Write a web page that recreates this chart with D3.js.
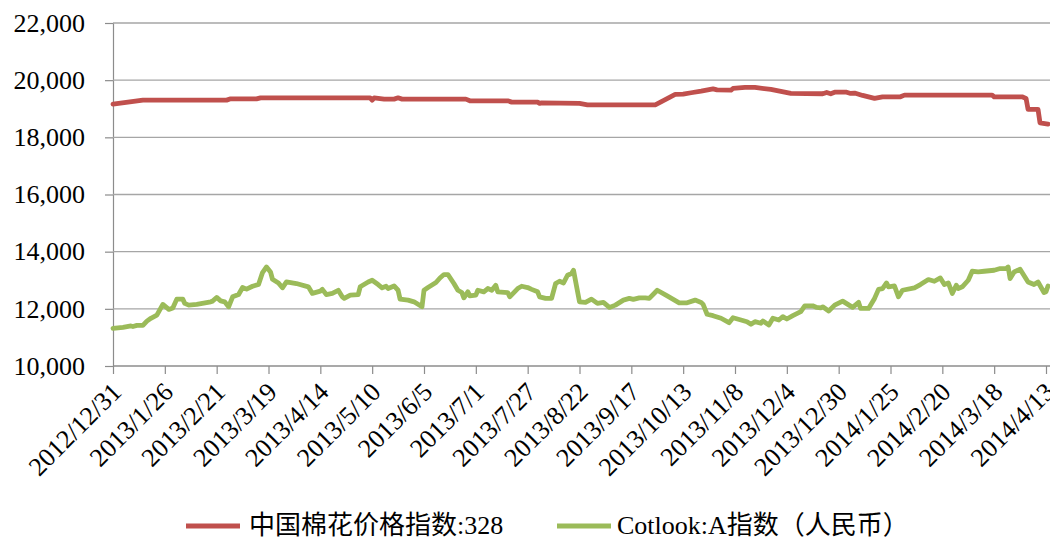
<!DOCTYPE html>
<html>
<head>
<meta charset="utf-8">
<script src="https://cdn.jsdelivr.net/npm/d3@7/dist/d3.min.js"></script>
<style>
  html, body { margin: 0; padding: 0; background: #fff; }
  svg { display: block; }
  text { font-family: "Liberation Serif", "Noto Sans CJK SC", serif; fill: #000; }
</style>
</head>
<body>
<svg id="chart" width="1050" height="540"></svg>
<script>
// ---------- DATA ----------
const seriesNames = ["中国棉花价格指数:328", "Cotlook:A指数（人民币）"];

const xTickLabels = ["2012/12/31","2013/1/26","2013/2/21","2013/3/19","2013/4/14","2013/5/10",
  "2013/6/5","2013/7/1","2013/7/27","2013/8/22","2013/9/17","2013/10/13","2013/11/8",
  "2013/12/4","2013/12/30","2014/1/25","2014/2/20","2014/3/18","2014/4/13"];

const yTickValues = [10000, 12000, 14000, 16000, 18000, 20000, 22000];

const chinaDates = ["2012/12/31","2013/1/15","2013/2/26","2013/2/28","2013/3/13","2013/3/15",
  "2013/5/9","2013/5/10","2013/5/11","2013/5/16","2013/5/21","2013/5/23","2013/5/25",
  "2013/6/26","2013/6/28","2013/7/17","2013/7/19","2013/8/1","2013/8/2","2013/8/3",
  "2013/8/22","2013/8/26","2013/9/29","2013/10/9","2013/10/13","2013/10/17","2013/10/22",
  "2013/10/28","2013/10/30","2013/11/6","2013/11/7","2013/11/13","2013/11/18","2013/11/26",
  "2013/12/6","2013/12/22","2013/12/24","2013/12/26","2013/12/28","2014/1/3","2014/1/5",
  "2014/1/7","2014/1/11","2014/1/17","2014/1/21","2014/1/30","2014/2/1","2014/3/17",
  "2014/3/18","2014/4/1","2014/4/3","2014/4/4","2014/4/9","2014/4/10","2014/4/14"];
const chinaValues = [19162,19302,19302,19347,19347,19382,
  19382,19302,19382,19337,19337,19382,19337,
  19337,19278,19278,19232,19232,19190,19208,
  19185,19138,19138,19500,19510,19560,19617,
  19697,19662,19650,19710,19745,19745,19675,
  19536,19525,19570,19525,19580,19580,19536,
  19550,19466,19362,19418,19418,19477,19477,
  19418,19418,19362,18977,18977,18508,18463];

const cotlookDates = ["2012/12/31","2013/1/5","2013/1/9","2013/1/10","2013/1/12","2013/1/15",
  "2013/1/17","2013/1/19","2013/1/22","2013/1/25","2013/1/28","2013/1/30","2013/2/1","2013/2/4",
  "2013/2/5","2013/2/7","2013/2/11","2013/2/18","2013/2/19","2013/2/21","2013/2/23","2013/2/25",
  "2013/2/27","2013/3/1","2013/3/4","2013/3/6","2013/3/8","2013/3/11","2013/3/14","2013/3/16",
  "2013/3/18","2013/3/20","2013/3/21","2013/3/24","2013/3/26","2013/3/28","2013/4/2","2013/4/8",
  "2013/4/10","2013/4/14","2013/4/15","2013/4/17","2013/4/20","2013/4/23","2013/4/25","2013/4/26",
  "2013/4/29","2013/5/3","2013/5/4","2013/5/8","2013/5/10","2013/5/13","2013/5/15","2013/5/17",
  "2013/5/18","2013/5/21","2013/5/23","2013/5/24","2013/5/28","2013/5/31","2013/6/4","2013/6/5",
  "2013/6/7","2013/6/11","2013/6/13","2013/6/15","2013/6/17","2013/6/20","2013/6/22","2013/6/24",
  "2013/6/25","2013/6/27","2013/6/28","2013/7/1","2013/7/2","2013/7/5","2013/7/7","2013/7/9",
  "2013/7/11","2013/7/12","2013/7/17","2013/7/18","2013/7/22","2013/7/24","2013/7/27","2013/7/29",
  "2013/8/1","2013/8/2","2013/8/5","2013/8/8","2013/8/10","2013/8/12","2013/8/14","2013/8/16",
  "2013/8/18","2013/8/19","2013/8/22","2013/8/25","2013/8/28","2013/8/31","2013/9/3","2013/9/6",
  "2013/9/9","2013/9/13","2013/9/16","2013/9/18","2013/9/21","2013/9/24","2013/9/26","2013/9/30",
  "2013/10/5","2013/10/11","2013/10/15","2013/10/19","2013/10/22","2013/10/23","2013/10/25",
  "2013/10/28","2013/11/1","2013/11/5","2013/11/7","2013/11/11","2013/11/14","2013/11/16",
  "2013/11/18","2013/11/21","2013/11/22","2013/11/25","2013/11/27","2013/11/30","2013/12/2",
  "2013/12/4","2013/12/7","2013/12/11","2013/12/13","2013/12/17","2013/12/19","2013/12/21",
  "2013/12/22","2013/12/25","2013/12/28","2014/1/1","2014/1/6","2014/1/9","2014/1/10","2014/1/14",
  "2014/1/17","2014/1/19","2014/1/21","2014/1/23","2014/1/24","2014/1/27","2014/1/29","2014/1/31",
  "2014/2/6","2014/2/9","2014/2/13","2014/2/16","2014/2/19","2014/2/21","2014/2/23","2014/2/25",
  "2014/2/27","2014/2/28","2014/3/2","2014/3/5","2014/3/7","2014/3/10","2014/3/13","2014/3/18",
  "2014/3/21","2014/3/24","2014/3/25","2014/3/26","2014/3/28","2014/3/31","2014/4/4","2014/4/7",
  "2014/4/9","2014/4/12","2014/4/13","2014/4/14"];
const cotlookValues = [11320,11355,11400,11380,11420,11420,
  11570,11670,11780,12155,11980,12030,12340,12340,
  12190,12130,12155,12245,12270,12400,12280,12245,
  12070,12420,12500,12745,12690,12790,12850,13270,
  13465,13290,13035,12905,12735,12940,12885,12770,
  12540,12620,12680,12500,12540,12650,12420,12365,
  12480,12500,12770,12940,13000,12850,12735,12790,
  12710,12800,12650,12340,12305,12245,12070,12650,
  12745,12920,13080,13200,13200,12885,12650,12570,
  12385,12595,12455,12480,12650,12595,12710,12650,
  12825,12595,12570,12420,12710,12790,12745,12680,
  12595,12420,12365,12365,12885,12965,12905,13175,
  13235,13350,12245,12225,12340,12190,12225,12050,
  12130,12305,12365,12330,12385,12385,12365,12650,
  12455,12210,12210,12305,12225,12155,11810,
  11760,11670,11515,11690,11610,11550,11460,
  11550,11495,11575,11435,11670,11610,11725,
  11645,11760,11900,12105,12105,12050,12035,
  12070,11925,12130,12270,12050,12225,12015,12015,
  12365,12680,12710,12905,12770,12800,12420,12650,
  12735,12850,13025,12965,13080,12850,12905,12540,
  12825,12710,12770,13000,13315,13290,13315,13350,
  13410,13410,13465,13060,13290,13385,12940,12850,
  12940,12570,12600,12800];

const seriesColors = ["#C0504D", "#9BBB59"];

// ---------- CHART ----------
const parse = d3.utcParse("%Y/%-m/%-d");
const svg = d3.select("#chart");

const plot = { left: 113, right: 1046, top: 23, bottom: 366 };

const x = d3.scaleUtc()
  .domain([parse(xTickLabels[0]), parse(xTickLabels[xTickLabels.length - 1])])
  .range([plot.left, plot.right]);

const y = d3.scaleLinear()
  .domain([yTickValues[0], yTickValues[yTickValues.length - 1]])
  .range([plot.bottom, plot.top]);

// y-axis
const yAxis = d3.axisLeft(y)
  .tickValues(yTickValues)
  .tickSize(8)
  .tickPadding(20)
  .tickFormat(d3.format(","));

const yg = svg.append("g")
  .attr("transform", `translate(${plot.left},0)`)
  .call(yAxis);
yg.select(".domain").attr("stroke", "#8c8c8c").attr("stroke-width", 1.2);
yg.selectAll(".tick line").attr("stroke", "#8c8c8c").attr("stroke-width", 1.2);
yg.selectAll(".tick text")
  .attr("font-size", 26)
  .attr("font-family", "'Liberation Serif', serif")
  .attr("fill", "#000");

// gridlines
svg.append("g").selectAll("line.grid")
  .data(yTickValues.slice(1))
  .join("line")
  .attr("x1", plot.left).attr("x2", 1050)
  .attr("y1", d => y(d)).attr("y2", d => y(d))
  .attr("stroke", "#a6a6a6").attr("stroke-width", 1.3);

// x-axis
const tickDates = xTickLabels.map(parse);
const xAxis = d3.axisBottom(x)
  .tickValues(tickDates)
  .tickSize(8)
  .tickFormat((d, i) => xTickLabels[i]);

const xg = svg.append("g")
  .attr("transform", `translate(0,${plot.bottom})`)
  .call(xAxis);
xg.select(".domain").remove();
xg.append("line")
  .attr("x1", plot.left).attr("x2", 1050)
  .attr("y1", 0).attr("y2", 0)
  .attr("stroke", "#8c8c8c").attr("stroke-width", 1.3);
xg.selectAll(".tick line").attr("stroke", "#8c8c8c").attr("stroke-width", 1.2);
xg.selectAll(".tick text")
  .attr("font-size", 26)
  .attr("font-family", "'Liberation Serif', serif")
  .attr("fill", "#000")
  .attr("text-anchor", "end")
  .attr("y", 0).attr("dy", "0.35em")
  .attr("transform", "translate(3,21) rotate(-45)");

// lines
const line = d3.line()
  .x(d => x(d.date))
  .y(d => y(d.value));

const chinaData = chinaDates.map((s, i) => ({ date: parse(s), value: chinaValues[i] }));
const cotlookData = cotlookDates.map((s, i) => ({ date: parse(s), value: cotlookValues[i] }));

[chinaData, cotlookData].forEach((data, i) => {
  svg.append("path")
    .datum(data)
    .attr("d", line)
    .attr("fill", "none")
    .attr("stroke", seriesColors[i])
    .attr("stroke-width", 4.8)
    .attr("stroke-linejoin", "round")
    .attr("stroke-linecap", "round");
});

// legend
const legendItems = [
  { x1: 186, x2: 240, tx: 249 },
  { x1: 557, x2: 611, tx: 617 }
];
const legendY = 525;
const lg = svg.append("g");
legendItems.forEach((it, i) => {
  lg.append("line")
    .attr("x1", it.x1).attr("x2", it.x2)
    .attr("y1", legendY + 1).attr("y2", legendY + 1)
    .attr("stroke", seriesColors[i]).attr("stroke-width", 5);
  lg.append("text")
    .attr("x", it.tx).attr("y", legendY)
    .attr("dy", "0.35em")
    .attr("font-size", 26)
    .text(seriesNames[i]);
});
</script>
</body>
</html>
